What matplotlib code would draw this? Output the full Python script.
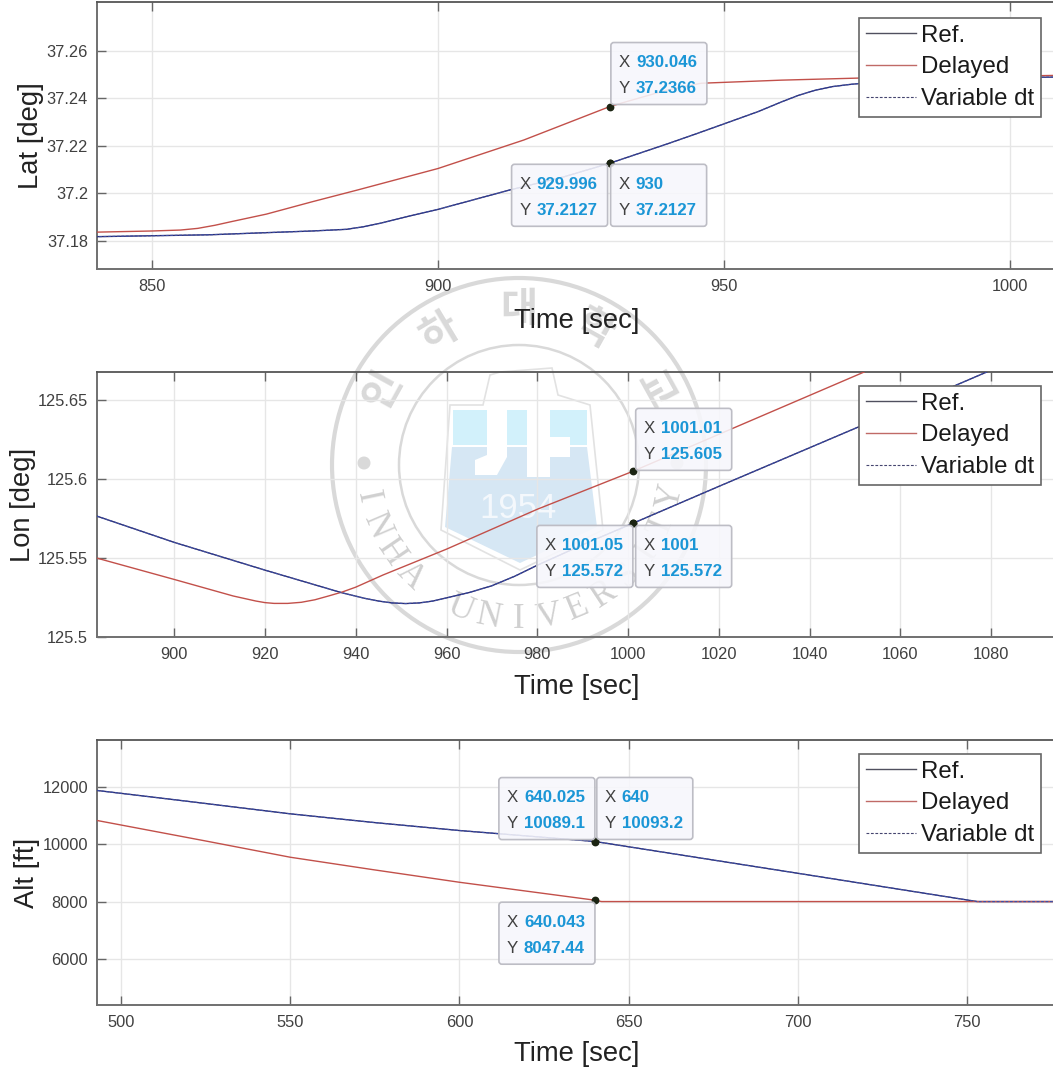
import numpy as np
import matplotlib
matplotlib.use("Agg")
import matplotlib.pyplot as plt
from matplotlib.patches import Circle, FancyBboxPatch, Polygon
from matplotlib.transforms import IdentityTransform

plt.rcParams['font.family'] = ['Liberation Sans', 'Noto Sans CJK KR', 'DejaVu Sans']

W = 1053
H = 1069

# Latitude
lat_t_ref = [840, 860, 870, 878, 884, 887, 890, 895, 900, 912.6, 922, 930, 940, 945, 950, 956, 960, 963, 966, 969, 972, 976, 980, 990, 1008]
lat_ref = [37.1818, 37.1826, 37.1835, 37.1842, 37.1849, 37.186, 37.1875, 37.1905, 37.1933, 37.2015, 37.207, 37.2127, 37.2208, 37.225, 37.2293, 37.2345, 37.2385, 37.2413, 37.2435, 37.245, 37.2459, 37.2468, 37.2476, 37.2485, 37.249]
lat_t_del = [840, 850, 855, 858, 861, 864, 870, 878, 886, 900, 915, 930.046, 932, 940, 946, 960, 974, 990, 1008]
lat_del = [37.1837, 37.1842, 37.1846, 37.1853, 37.1866, 37.1882, 37.1913, 37.1965, 37.2015, 37.2105, 37.2225, 37.2366, 37.238, 37.2435, 37.2464, 37.2477, 37.2486, 37.249, 37.2497]

# Longitude
lon_t_ref = [883, 900, 920, 937, 942, 945, 948, 951, 954, 957, 960, 965, 970, 975, 980, 990, 1001, 1020, 1040, 1060, 1079]
lon_ref = [125.5766, 125.56, 125.5424, 125.528, 125.5245, 125.5228, 125.5216, 125.5212, 125.5216, 125.5228, 125.5248, 125.5282, 125.5325, 125.5385, 125.5455, 125.5585, 125.572, 125.5955, 125.62, 125.6445, 125.668]
lon_t_del = [883, 900, 913, 918, 920, 922, 925, 928, 931, 934, 937, 940, 946, 960, 980, 1001.01, 1020, 1052]
lon_del = [125.55, 125.5365, 125.526, 125.5228, 125.5218, 125.5213, 125.5213, 125.522, 125.5236, 125.526, 125.5285, 125.5316, 125.5393, 125.5557, 125.581, 125.605, 125.6285, 125.668]

# Altitude
alt_t_ref = [493, 517, 550, 575, 600, 640, 700, 753, 776]
alt_ref = [11868, 11530, 11056, 10750, 10474, 10093, 8985, 8000, 8000]
alt_t_del = [493, 525, 550, 574.5, 600, 640.043, 642, 776]
alt_del = [10822, 10110, 9544, 9110, 8672, 8047, 8000, 8000]

labels = ['Ref.', 'Delayed', 'Variable dt']

lat_xticks = [850, 900, 950, 1000]
lat_yticks = [37.18, 37.2, 37.22, 37.24, 37.26]
lat_ylabels = ['37.18', '37.2', '37.22', '37.24', '37.26']
lon_xticks = [900, 920, 940, 960, 980, 1000, 1020, 1040, 1060, 1080]
lon_yticks = [125.5, 125.55, 125.6, 125.65]
lon_ylabels = ['125.5', '125.55', '125.6', '125.65']
alt_xticks = [500, 550, 600, 650, 700, 750]
alt_yticks = [6000, 8000, 10000, 12000]
alt_ylabels = ['6000', '8000', '10000', '12000']

# Data tips: x, y, x text, y text, box offset
lat_tips = [(930.046, 37.2366, '930.046', '37.2366', 1, -64),
            (930, 37.2127, '930', '37.2127', 1, 1),
            (929.996, 37.2127, '929.996', '37.2127', -98, 1)]
lon_tips = [(1001.01, 125.605, '1001.01', '125.605', 3, -63),
            (1001, 125.572, '1001', '125.572', 3, 2),
            (1001.05, 125.572, '1001.05', '125.572', -96, 2)]
alt_tips = [(640, 10093.2, '640', '10093.2', 2, -64),
            (640.025, 10089.1, '640.025', '10089.1', -96, -64),
            (640.043, 8047.44, '640.043', '8047.44', -96, 2)]

REF_COLOR = '#2e2e6e'
DEL_COLOR = '#c2504a'
VAR_COLOR = '#3c4fa8'
TEXT_COLOR = '#404040'
WM_GREY = '#d9d9d9'


def px_axes(fig, left, top, right, bottom):
    return fig.add_axes([left / W, 1 - bottom / H, (right - left) / W, (bottom - top) / H])


def draw_watermark(fig):
    bg = fig.add_axes([0, 0, 1, 1], zorder=-1)
    bg.set_xlim(0, W)
    bg.set_ylim(H, 0)
    bg.axis('off')
    cx, cy = 519, 465
    bg.add_patch(Circle((cx, cy), 187, fill=False, ec=WM_GREY, lw=3))
    bg.add_patch(Circle((cx, cy), 120, fill=False, ec=WM_GREY, lw=1.8))

    lower = [(452, 447), (587, 447), (597, 527), (520, 563), (445, 527)]
    bg.add_patch(Polygon(lower, closed=True, fc='#d6e7f4', ec='none'))
    upper = [(453, 410), (587, 410), (587, 445), (453, 445)]
    bg.add_patch(Polygon(upper, closed=True, fc='#d2f1fb', ec='none'))
    outline = [(450, 405), (483, 405), (490, 375), (500, 372), (552, 368), (558, 395), (590, 405), (603, 530), (520, 570), (441, 530)]
    bg.add_patch(Polygon(outline, closed=True, fill=False, ec='#e2e2e2', lw=1.2))
    # the white letters on the shield
    letter1 = [(487, 410), (507, 410), (507, 457), (497, 475), (475, 475), (475, 460), (487, 455)]
    letter2 = [(527, 410), (550, 410), (550, 437), (570, 437), (570, 457), (550, 457), (550, 477), (527, 477)]
    bg.add_patch(Polygon(letter1, closed=True, fc='white', ec='none'))
    bg.add_patch(Polygon(letter2, closed=True, fc='white', ec='none'))
    bg.text(518, 509, '1954', color='#f4f8fc', fontsize=25, ha='center', va='center')

    for x in (364, 677):
        bg.add_patch(Circle((x, 463), 6.5, fc=WM_GREY, ec='none'))

    # korean name along the top of the ring
    for ch, ang in zip('인하대학교', [-61, -31, 0, 29, 61]):
        a = np.radians(ang)
        bg.text(cx + 155 * np.sin(a), cy - 155 * np.cos(a), ch, color=WM_GREY, fontsize=29,
                fontweight='bold', ha='center', va='center', rotation=-ang)

    # english name along the bottom
    name = 'INHA UNIVERSITY'
    for i, ch in enumerate(name):
        ang = 78 - i * 156 / (len(name) - 1)
        a = np.radians(ang)
        bg.text(cx - 155 * np.sin(a), cy + 155 * np.cos(a), ch, color='#d0d0d0', fontsize=25,
                family='Liberation Serif', ha='center', va='center', rotation=-ang)


def draw_tip(fig, ax, x, y, xtxt, ytxt, dx, dy):
    ax.plot([x], [y], 'o', color='#1b2412', ms=4.6, zorder=6, clip_on=False)
    px, py = ax.transData.transform((x, y))
    left = px + dx
    top = py - dy
    box = FancyBboxPatch((left + 2, top - 60), 92, 58, boxstyle='round,pad=2,rounding_size=3',
                         fc=(0.97, 0.97, 0.99, 0.88), ec='#bdbdc5', lw=1.2, transform=IdentityTransform())
    fig.add_artist(box)
    for i, (k, s) in enumerate((('X', xtxt), ('Y', ytxt))):
        ty = top - 20 - i * 26
        fig.text(left + 8, ty, k, color='#404040', fontsize=12.2, va='center',
                 transform=IdentityTransform())
        fig.text(left + 25, ty, s, color='#1b96d6', fontsize=12.2, fontweight='bold', va='center',
                 transform=IdentityTransform())


def draw_panel(fig, box, xlim, ylim, t_ref, ref, t_del, delayed, xticks, yticks, ylabels, ylab, ylab_x, xlab_off, leg_off, tips):
    left, top, right, bottom = box
    ax = px_axes(fig, left, top, right, bottom)
    ax.patch.set_visible(False)
    ax.plot(t_ref, ref, color=REF_COLOR, lw=1.0, label=labels[0], zorder=3)
    ax.plot(t_del, delayed, color=DEL_COLOR, lw=1.0, label=labels[1], zorder=3)
    ax.plot(t_ref, ref, color=VAR_COLOR, lw=0.8, ls=(0, (2.5, 1.5)), label=labels[2], zorder=4)
    ax.set_xlim(xlim)
    ax.set_ylim(ylim)
    ax.set_xticks(xticks)
    ax.set_yticks(yticks)
    ax.set_yticklabels(ylabels)
    ax.grid(True, color='#e6e6e6', lw=1)
    ax.set_axisbelow(True)
    ax.tick_params(axis='x', direction='in', length=6.5, width=1, color='#666666', top=True,
                   labelsize=11.8, labelcolor=TEXT_COLOR, pad=7.5)
    ax.tick_params(axis='y', direction='in', length=6.5, width=1, color='#666666',
                   labelsize=11.8, labelcolor=TEXT_COLOR, pad=6.5)
    for name in ['left', 'bottom']:
        ax.spines[name].set_color('#707070')
        ax.spines[name].set_linewidth(1.4)
    ax.spines['top'].set_color('#555555')
    ax.spines['top'].set_linewidth(1.3)
    ax.spines['right'].set_visible(False)

    height = bottom - top
    ax.set_xlabel('Time [sec]', fontsize=19.7, color='#222222', va='center')
    ax.xaxis.set_label_coords((577 - left) / (right - left), -xlab_off / height)
    ax.set_ylabel(ylab, fontsize=19.7, color='#222222', va='center')
    ax.yaxis.set_label_coords((ylab_x - left) / (right - left), 0.5)

    leg = ax.legend(loc='upper right', bbox_to_anchor=((1041 - left) / (right - left), 1 - leg_off / height),
                    borderaxespad=0, fontsize=17.3, fancybox=False, framealpha=1, edgecolor='#666666',
                    handlelength=2.1, handletextpad=0.2, labelspacing=0.4, borderpad=0.28)
    leg.get_frame().set_linewidth(1.2)
    leg.set_zorder(5)
    for t in leg.get_texts():
        t.set_color('#1a1a1a')
    leg.get_lines()[0].set_color('#50505f')
    leg.get_lines()[1].set_color('#c06a66')
    leg.get_lines()[2].set_color('#45456f')

    for tip in tips:
        draw_tip(fig, ax, *tip)
    return ax


def main():
    fig = plt.figure(figsize=(W / 100, H / 100), dpi=100)
    draw_watermark(fig)
    draw_panel(fig, (97, 2, W, 269), (840.4, 1007.5), (37.1682, 37.2806), lat_t_ref, lat_ref, lat_t_del, lat_del,
               lat_xticks, lat_yticks, lat_ylabels, 'Lat [deg]', 31, 52, 16, lat_tips)
    draw_panel(fig, (97, 372, W, 637), (883, 1093.6), (125.5, 125.668), lon_t_ref, lon_ref, lon_t_del, lon_del,
               lon_xticks, lon_yticks, lon_ylabels, 'Lon [deg]', 23, 50, 14, lon_tips)
    draw_panel(fig, (97, 740, W, 1005), (492.9, 775.4), (4397, 13627), alt_t_ref, alt_ref, alt_t_del, alt_del,
               alt_xticks, alt_yticks, alt_ylabels, 'Alt [ft]', 27, 49, 14, alt_tips)
    fig.savefig('out.png', dpi=100)


if __name__ == "__main__":
    main()
